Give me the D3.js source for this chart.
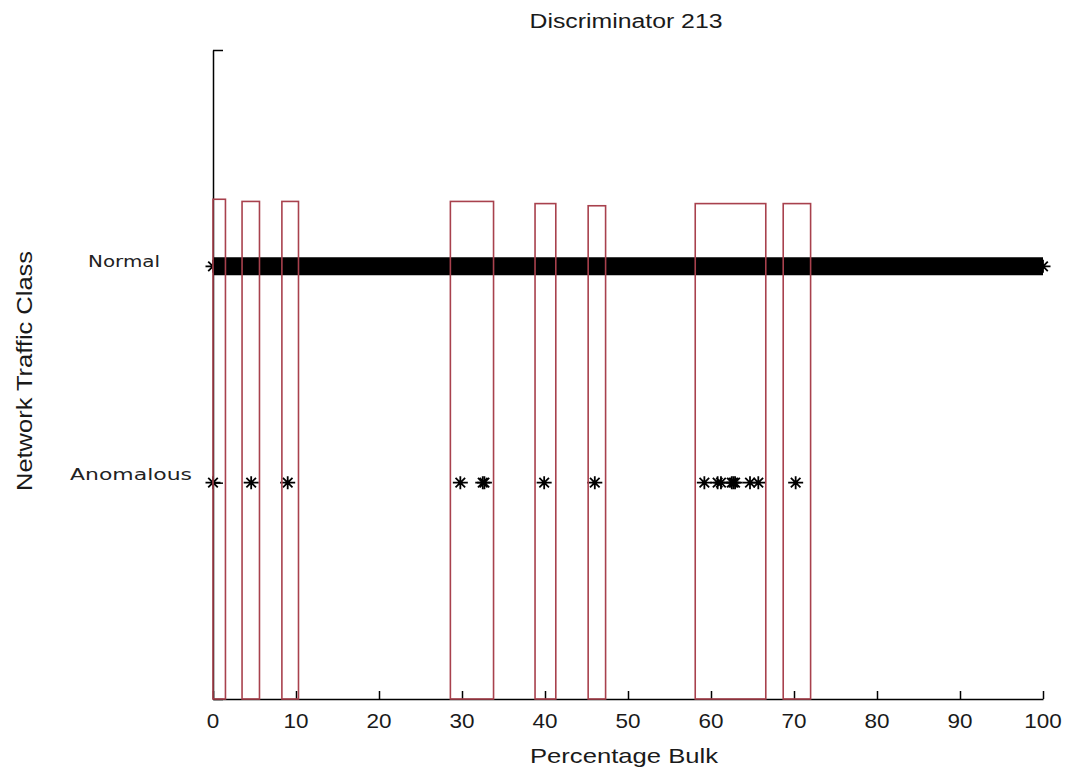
<!DOCTYPE html>
<html><head><meta charset="utf-8">
<script src="https://cdn.jsdelivr.net/npm/d3@7"></script>
<style>body{margin:0;background:#fff}svg{display:block}</style>
</head><body>
<svg id="c" width="1070" height="772"></svg>
<script>
// ---- data ----
const classLabels = ["Anomalous", "Normal"];        // y = 1, 2
const classValues = [1, 2];
const xTicks = [0, 10, 20, 30, 40, 50, 60, 70, 80, 90, 100];
const normalRange = [0, 100];                         // dense Normal points span
const anomalousX = [0, 4.6, 9.0, 29.8, 32.5, 32.7, 39.9, 46.0, 59.2, 60.8, 61.2, 62.5, 62.7, 62.9, 64.7, 65.7, 70.2];
const barLeft   = [0, 3.5, 8.3, 28.6, 38.8, 45.2, 58.1, 68.7];
const barRight  = [1.5, 5.6, 10.3, 33.8, 41.3, 47.3, 66.6, 72.0];
const barHeight = [2.31, 2.30, 2.30, 2.30, 2.29, 2.28, 2.29, 2.29];

const svg = d3.select("#c");
const x = d3.scaleLinear().domain([0, 100]).range([213, 1043]);
const y = d3.scaleLinear().domain([0, 3]).range([699, 50]);

// axes
const gx = svg.append("g").attr("transform", `translate(0,${y(0)})`)
  .call(d3.axisBottom(x).tickValues(xTicks).tickSizeInner(-8).tickSizeOuter(0).tickFormat(""));
gx.select(".domain").attr("stroke", "#000").attr("stroke-width", 1.5);
gx.selectAll(".tick line").attr("stroke", "#000").attr("stroke-width", 1.5);

const gy = svg.append("g").attr("transform", `translate(${x(0)},0)`)
  .call(d3.axisLeft(y).tickValues([0, 1, 2, 3]).tickSizeInner(-10).tickSizeOuter(0).tickFormat(""));
gy.select(".domain").attr("stroke", "#000").attr("stroke-width", 1.5);
gy.selectAll(".tick line").attr("stroke", "#000").attr("stroke-width", 1.5);

// tick labels (stretched text as in reference)
xTicks.forEach(t => {
  const s = String(t);
  svg.append("text").attr("x", x(t)).attr("y", 728).attr("text-anchor", "middle")
    .attr("font-family", "Liberation Sans, Arial, sans-serif").attr("font-size", 21)
    .attr("textLength", s.length * 12.5).attr("lengthAdjust", "spacingAndGlyphs")
    .attr("fill", "#1a1a1a").text(s);
});
const classLabelWidth = {"Normal": 72, "Anomalous": 122};
classValues.forEach((v, i) => {
  const lbl = classLabels[i];
  svg.append("text").attr("x", v === 2 ? 88 : 70).attr("y", y(v) + (v === 2 ? 1 : -3))
    .attr("font-family", "DejaVu Sans, Verdana, sans-serif").attr("font-size", 15.5)
    .attr("textLength", classLabelWidth[lbl]).attr("lengthAdjust", "spacingAndGlyphs")
    .attr("fill", "#222").text(lbl);
});

// titles
svg.append("text").attr("x", 626).attr("y", 28).attr("text-anchor", "middle")
  .attr("font-family", "Liberation Sans, Arial, sans-serif").attr("font-size", 20)
  .attr("textLength", 193).attr("lengthAdjust", "spacingAndGlyphs").attr("fill", "#1a1a1a")
  .text("Discriminator 213");
svg.append("text").attr("x", 624).attr("y", 763).attr("text-anchor", "middle")
  .attr("font-family", "Liberation Sans, Arial, sans-serif").attr("font-size", 21)
  .attr("textLength", 188).attr("lengthAdjust", "spacingAndGlyphs").attr("fill", "#1a1a1a")
  .text("Percentage Bulk");
svg.append("text").attr("transform", "translate(32,371) rotate(-90)").attr("text-anchor", "middle")
  .attr("font-family", "Liberation Sans, Arial, sans-serif").attr("font-size", 22)
  .attr("textLength", 240).attr("lengthAdjust", "spacingAndGlyphs").attr("fill", "#1a1a1a")
  .text("Network Traffic Class");

// star marker
function star(g, cx, cy) {
  const h = 7.5, v = 6.5, d = 4.8;
  const p = `M${cx-h},${cy}H${cx+h}M${cx},${cy-v}V${cy+v}M${cx-d},${cy-d}L${cx+d},${cy+d}M${cx-d},${cy+d}L${cx+d},${cy-d}`;
  g.append("path").attr("d", p).attr("stroke", "#000").attr("stroke-width", 1.8).attr("fill", "none");
}

// Normal: dense band of stars
const gn = svg.append("g");
gn.append("line").attr("x1", x(normalRange[0])).attr("x2", x(normalRange[1]))
  .attr("y1", y(2)).attr("y2", y(2)).attr("stroke", "#000").attr("stroke-width", 18);
normalRange.forEach(v => star(gn, x(v), y(2)));

// Anomalous stars
const ga = svg.append("g");
anomalousX.forEach(v => star(ga, x(v), y(1)));

// red bars on top
svg.append("g").selectAll("rect").data(barLeft.map((l, i) => ({l, r: barRight[i], h: barHeight[i]})))
  .join("rect")
  .attr("x", d => x(d.l)).attr("width", d => x(d.r) - x(d.l))
  .attr("y", d => y(d.h)).attr("height", d => y(0) - y(d.h))
  .attr("fill", "none").attr("stroke", "#a8414d").attr("stroke-width", 1.6);
</script>
</body></html>
